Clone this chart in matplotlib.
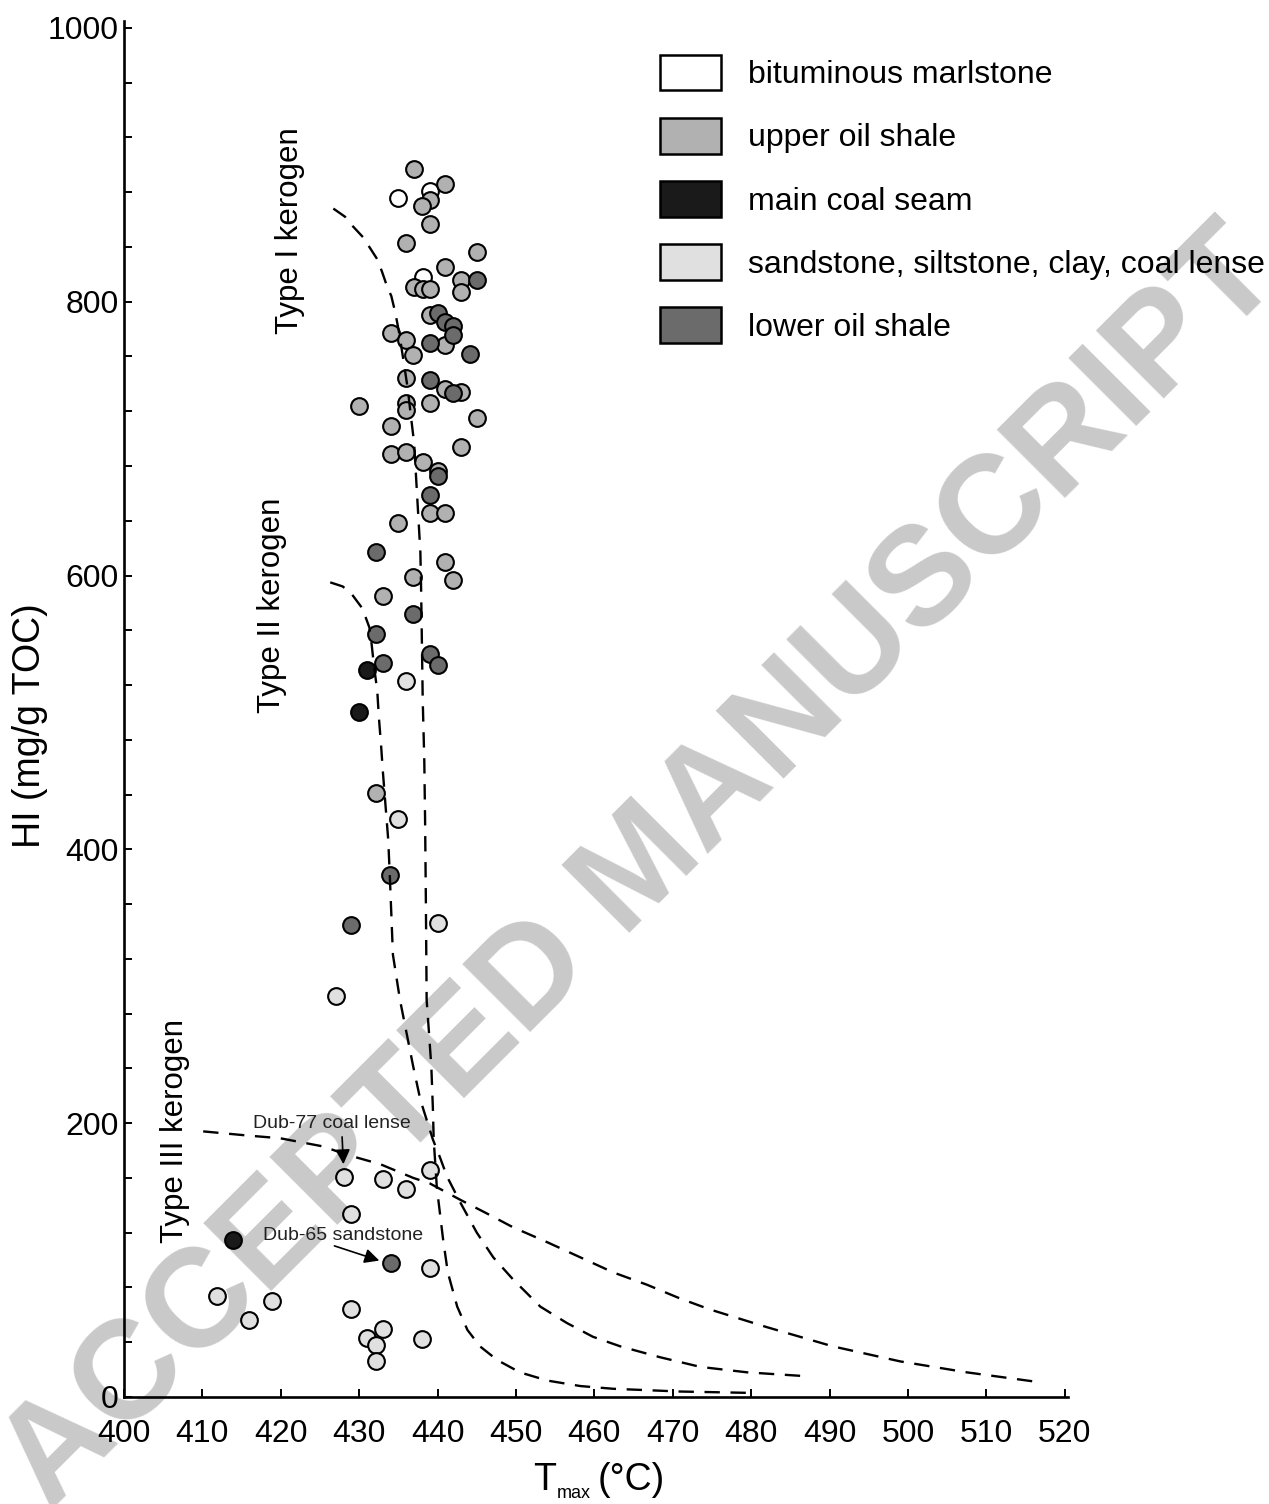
import matplotlib
matplotlib.use('Agg')
import matplotlib.pyplot as plt
from matplotlib.patches import Patch

plt.rcParams['font.family'] = ['Liberation Sans', 'DejaVu Sans']

# ---------------- data ----------------
categories = ['bituminous marlstone', 'upper oil shale', 'main coal seam',
              'sandstone, siltstone, clay, coal lense', 'lower oil shale']
colors = ['#ffffff', '#b1b1b1', '#1a1a1a', '#e0e0e0', '#6b6b6b']

marl_t = [439.0, 435.0, 438.1]
marl_hi = [881, 876, 818]

upper_t = [437.0, 441.0, 439.0, 438.0, 439.0, 436.0, 445.0, 441.0, 443.0, 443.0,
           437.0, 438.1, 439.0, 439.0, 434.0, 436.0, 441.0, 436.9, 436.0, 441.0,
           443.0, 436.0, 436.0, 439.0, 430.0, 445.0, 434.0, 443.0, 434.0, 436.0,
           438.1, 440.0, 439.0, 441.0, 435.0, 441.0, 436.9, 442.0, 433.0, 432.1]
upper_hi = [897, 886, 874, 870, 857, 843, 836, 825, 816, 807,
            811, 809, 809, 790, 777, 772, 768, 761, 744, 736,
            734, 726, 721, 726, 724, 715, 709, 694, 689, 690,
            683, 676, 646, 646, 638, 610, 599, 597, 585, 441]

coal_t = [431.0, 430.0, 413.9]
coal_hi = [531, 500, 115]

sand_t = [436.0, 434.9, 440.0, 427.0, 428.0, 433.0, 436.0, 439.0, 429.0, 439.0,
          411.9, 418.9, 416.0, 429.0, 433.0, 431.0, 432.1, 432.1, 438.0]
sand_hi = [523, 422, 346, 293, 161, 159, 152, 166, 134, 94,
           74, 70, 56, 64, 50, 43, 38, 26, 42]

lower_t = [445.0, 440.0, 441.0, 442.0, 442.0, 439.0, 444.1, 439.0, 442.0, 440.0,
           439.0, 432.1, 436.9, 432.1, 439.0, 440.0, 433.0, 433.9, 429.0, 434.0]
lower_hi = [816, 792, 785, 782, 776, 770, 762, 743, 733, 673,
            659, 617, 572, 557, 543, 535, 536, 381, 345, 98]

# kerogen type boundary curves (Tmax, HI)
type1_t = [426.7, 428.2, 429.2, 430.5, 431.4, 432.3, 432.9, 433.5, 434.1, 434.6,
           435.1, 435.7, 436.2, 436.6, 437.0, 437.2, 437.4, 437.6, 437.8, 437.9,
           438.0, 438.1, 438.3, 438.4, 438.5, 438.6, 438.9, 439.2, 439.4, 439.5,
           439.9, 440.3, 440.7, 441.3, 442.5, 443.8, 445.4, 447.6, 450.5, 454.0,
           458.2, 462.4, 470.9, 479.8]
type1_hi = [868, 862, 855, 847, 839, 831, 822, 812, 804, 792,
            777, 755, 736, 716, 697, 677, 657, 637, 617, 588,
            549, 509, 465, 422, 363, 290, 266, 241, 210, 188,
            153, 134, 115, 91, 66, 49, 37, 27, 18, 12,
            8, 6, 4, 3]

type2_t = [426.3, 427.9, 429.1, 430.4, 431.3, 431.6, 431.9, 432.3, 432.5, 432.8,
           433.0, 433.3, 433.7, 433.9, 434.3, 435.2, 436.9, 437.8, 439.4, 440.3,
           441.2, 442.9, 445.0, 447.1, 449.6, 453.1, 456.5, 459.8, 463.3, 468.4,
           473.5, 479.5, 487.5]
type2_hi = [595, 592, 586, 576, 562, 549, 533, 516, 497, 475,
            458, 436, 407, 381, 323, 290, 241, 217, 188, 175,
            161, 142, 120, 102, 86, 66, 54, 44, 37, 29,
            22, 18, 15]

type3_t = [410.1, 415.7, 419.9, 425.4, 428.4, 432.7, 436.9, 439.0, 442.9, 446.3,
           449.6, 454.0, 458.2, 462.4, 466.7, 470.9, 474.7, 482.0, 490.4, 499.0,
           507.5, 516.5]
type3_hi = [194, 191, 189, 183, 177, 170, 160, 156, 144, 134,
            124, 113, 102, 91, 82, 72, 64, 51, 37, 26,
            18, 11]

xticks = list(range(400, 521, 10))
yticks = list(range(0, 1001, 40))
ylabels_major = [0, 200, 400, 600, 800, 1000]

# ---------------- figure ----------------
W, H = 1269, 1504
fig = plt.figure(figsize=(W / 100, H / 100), dpi=100)
ax = fig.add_axes([124 / W, 107 / H, 944 / W, 1376 / H])
ax.set_facecolor('none')

# watermark
fig.text(642 / W, 1 - 870 / H, 'ACCEPTED MANUSCRIPT', rotation=45,
         ha='center', va='center', fontsize=101, fontweight='bold',
         color='#c9c9c9', zorder=-1)

ms = 145
elw = 1.5
series = [
    (sand_t, sand_hi, colors[3]),
    (marl_t, marl_hi, colors[0]),
    (upper_t, upper_hi, colors[1]),
    (lower_t, lower_hi, colors[4]),
    (coal_t, coal_hi, colors[2]),
]
for t, hi, c in series:
    ax.scatter(t, hi, s=ms, facecolor=c, edgecolor='black', linewidth=elw, zorder=2)

dash = (0, (6.5, 4.5))
for t, hi in [(type1_t, type1_hi), (type2_t, type2_hi), (type3_t, type3_hi)]:
    ax.plot(t, hi, color='black', lw=1.7, linestyle=dash, zorder=3)

ax.set_xlim(400, 520.4)
ax.set_ylim(0, 1005)

ax.set_xticks(xticks)
ax.set_xticklabels([str(v) for v in xticks])
ax.set_yticks(yticks)
ax.set_yticklabels([str(v) if v in ylabels_major else '' for v in yticks])
ax.tick_params(axis='both', direction='in', length=6, width=1.4, labelsize=23)
ax.tick_params(axis='x', pad=16)
ax.tick_params(axis='y', pad=4)

for s in ['top', 'right']:
    ax.spines[s].set_visible(False)
for s in ['left', 'bottom']:
    ax.spines[s].set_linewidth(1.9)

ax.set_ylabel('HI (mg/g TOC)', fontsize=27)
ax.yaxis.set_label_coords(-0.080, 0.488)

# x label: T with small subscript "max", then (°C)
fig.text(533 / W, 1 - 1490 / H, 'T', fontsize=27, ha='left', va='baseline')
fig.text(557 / W, 1 - 1498 / H, 'max', fontsize=13, ha='left', va='baseline')
fig.text(598 / W, 1 - 1490 / H, '(°C)', fontsize=27, ha='left', va='baseline')

# kerogen type labels
ax.text(421.2, 852, 'Type I kerogen', rotation=90, ha='center', va='center', fontsize=22.5)
ax.text(418.9, 578, 'Type II kerogen', rotation=90, ha='center', va='center', fontsize=22.5)
ax.text(406.5, 194, 'Type III kerogen', rotation=90, ha='center', va='center', fontsize=22.5)

# sample annotations
ax.annotate('', xy=(428.0, 168), xytext=(427.8, 192),
            arrowprops=dict(arrowstyle='-|>', color='black', lw=1.2, mutation_scale=22))
ax.text(426.5, 200, 'Dub-77 coal lense', ha='center', va='center', fontsize=14, color='#222222')
ax.annotate('', xy=(432.9, 99), xytext=(426.5, 111),
            arrowprops=dict(arrowstyle='-|>', color='black', lw=1.2, mutation_scale=22))
ax.text(428.0, 118, 'Dub-65 sandstone', ha='center', va='center', fontsize=14, color='#222222')

# legend
handles = [Patch(facecolor=c, edgecolor='black', linewidth=1.8) for c in colors]
ax.legend(handles, categories, loc='upper left',
          bbox_to_anchor=(660 / W, 1 - 55 / H), bbox_transform=fig.transFigure,
          frameon=False, fontsize=23, handlelength=1.91, handleheight=1.33,
          handletextpad=0.85, labelspacing=0.865, borderpad=0, borderaxespad=0)

fig.savefig('out.png', dpi=100)
